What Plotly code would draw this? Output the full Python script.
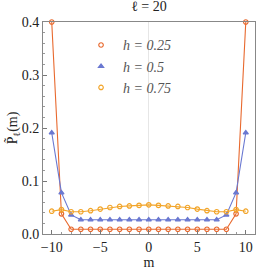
import plotly.graph_objects as go

m = list(range(-10, 11))
p_025 = [0.4, 0.038, 0.009, 0.009, 0.009, 0.009, 0.009, 0.009, 0.009, 0.009, 0.009,
         0.009, 0.009, 0.009, 0.009, 0.009, 0.009, 0.009, 0.009, 0.038, 0.4]
p_05 = [0.191, 0.078, 0.036, 0.027, 0.027, 0.027, 0.027, 0.027, 0.027, 0.027, 0.027,
        0.027, 0.027, 0.027, 0.027, 0.027, 0.027, 0.027, 0.036, 0.078, 0.191]
p_075 = [0.043, 0.046, 0.042, 0.042, 0.044, 0.047, 0.050, 0.052, 0.053, 0.054, 0.055,
         0.054, 0.053, 0.052, 0.050, 0.047, 0.044, 0.042, 0.042, 0.046, 0.043]
names = ["h = 0.25", "h = 0.5", "h = 0.75"]
colors = ["#E8692E", "#6A78D1", "#F2A52A"]
symbols = ["circle-open", "triangle-up", "circle-open"]

SERIF = "Times New Roman, Liberation Serif, serif"

fig = go.Figure()
for ys, nm, c, s in zip([p_025, p_05, p_075], names, colors, symbols):
    fig.add_trace(go.Scatter(
        x=m, y=ys, mode="lines+markers", name=nm, showlegend=False,
        line=dict(color=c, width=1.1),
        marker=dict(symbol=s, size=4.5, color=c, line=dict(color=c, width=1.2)),
        cliponaxis=False,
    ))
for nm, c, s in zip(names, colors, symbols):
    fig.add_trace(go.Scatter(
        x=[None], y=[None], mode="markers", name=nm, showlegend=True,
        marker=dict(symbol=s, size=4.5, color=c, line=dict(color=c, width=1.2)),
    ))

font = dict(family=SERIF, size=14, color="#222")
fig.update_layout(
    width=266, height=272,
    margin=dict(l=43, r=11, t=22, b=38, autoexpand=False),
    paper_bgcolor="white", plot_bgcolor="white",
    font=font,
    title=dict(text="ℓ = 20", x=0.56, xanchor="center", y=0.995, yanchor="top",
               automargin=False,
               font=dict(family=SERIF, size=14, color="#222")),
    showlegend=True,
    legend=dict(x=0.17, y=0.965, xanchor="left", yanchor="top",
                bgcolor="rgba(0,0,0,0)",
                font=dict(family=SERIF, size=14, color="#555", style="italic"),
                tracegroupgap=0, itemwidth=34),
)
fig.update_xaxes(
    range=[-10.9, 10.95], tickvals=[-10, -5, 0, 5, 10],
    ticktext=["−10", "−5", "0", "5", "10"],
    tickfont=dict(family=SERIF, size=14, color="#222"),
    ticks="inside", ticklen=4, tickcolor="#777",
    minor=dict(dtick=1, ticks="inside", ticklen=2, tickcolor="#999", showgrid=False),
    showgrid=False, zeroline=True, zerolinecolor="#e6e6e6", zerolinewidth=1,
    showline=True, linecolor="#888", linewidth=1, mirror=True, automargin=False,
    title=dict(text="m", standoff=2, font=font),
)
fig.update_yaxes(
    range=[0, 0.4], tickvals=[0, 0.1, 0.2, 0.3, 0.4],
    ticktext=["0.0", "0.1", "0.2", "0.3", "0.4"],
    tickfont=dict(family=SERIF, size=14, color="#222"),
    ticks="inside", ticklen=4, tickcolor="#777",
    minor=dict(dtick=0.02, ticks="inside", ticklen=2, tickcolor="#999", showgrid=False),
    showgrid=False, zeroline=False,
    showline=True, linecolor="#888", linewidth=1, mirror=True, automargin=False,
    title=dict(text="P̃<sub>ℓ</sub>(m)", standoff=0, font=font),
)
fig.write_html("out.html", config={"displayModeBar": False},
               post_script="document.body.style.margin='0';document.body.style.padding='0';")
